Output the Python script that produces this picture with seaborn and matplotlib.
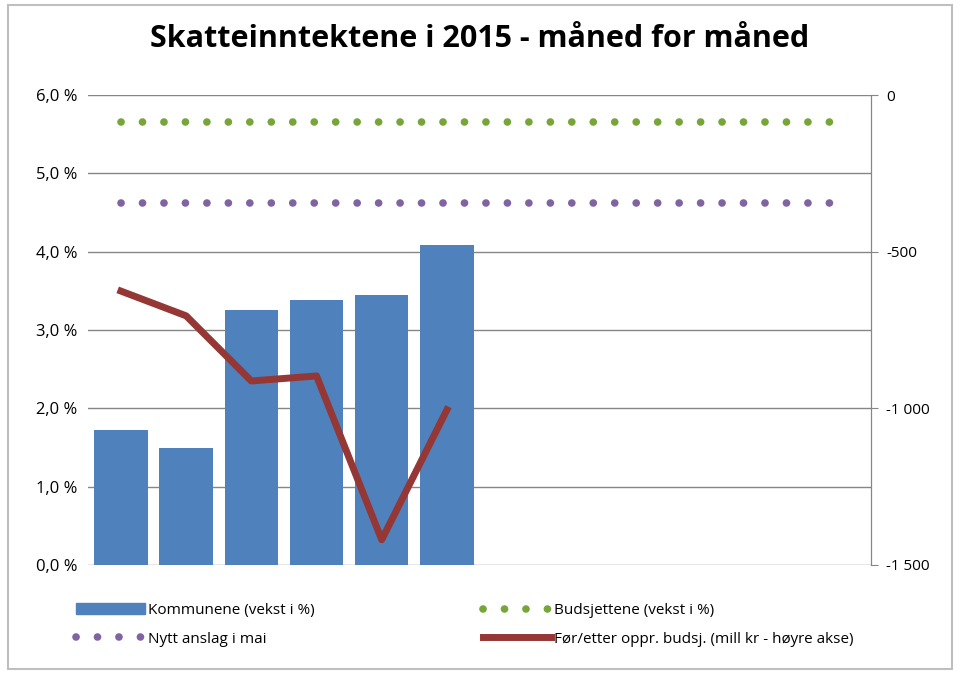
import matplotlib
matplotlib.use("Agg")
import matplotlib.pyplot as plt
from matplotlib.patches import Patch
import seaborn as sns
import pandas as pd
import numpy as np

months = ["jan", "feb", "mar", "apr", "mai", "jun", "jul", "aug", "sep", "okt", "nov", "des"]
kommunene = [1.72, 1.49, 3.26, 3.38, 3.44, 4.09]
budsjettene = [5.65] * 12
nytt_anslag = [4.62] * 12
for_etter = [-626, -705, -913, -897, -1420, -1005]

plt.rcParams["font.family"] = "Open Sans"
fig = plt.figure(figsize=(9.6, 6.74), dpi=100)
fig.patches.append(plt.Rectangle((0.008, 0.008), 0.984, 0.984, transform=fig.transFigure,
                                 fill=False, edgecolor="#bfbfbf", lw=1.5))
ax = fig.add_axes([0.092, 0.162, 0.815, 0.697])

df = pd.DataFrame({"m": months[:6], "v": kommunene})
sns.barplot(data=df, x="m", y="v", ax=ax, color="#4f81bd", saturation=1, width=0.82,
            order=months)
x = np.arange(12)
dots = (0, (0.01, 2.8))
hb, = ax.plot(x, budsjettene, linestyle=dots, lw=5.5, dash_capstyle="round", color="#77a53a")
hn, = ax.plot(x, nytt_anslag, linestyle=dots, lw=5.5, dash_capstyle="round", color="#8064a2")
ax.set_xlim(-0.5, 11.5)
ax.set_ylim(0, 6)
ax.set_yticks(np.arange(0, 6.01, 1))
ax.set_yticklabels([f"{v:.1f} %".replace(".", ",") for v in np.arange(0, 6.01, 1)])
ax.set_xticks([])
ax.set_xlabel(""); ax.set_ylabel("")
ax.grid(axis="y", color="#868686", lw=1)
ax.set_axisbelow(True)
for s in ["top", "left", "bottom"]:
    ax.spines[s].set_visible(False)
ax.spines["right"].set_color("#868686")
ax.tick_params(axis="y", length=0, labelsize=12, pad=8)

ax2 = ax.twinx()
hf, = ax2.plot(x[:6], for_etter, color="#953735", lw=5)
ax2.set_ylim(-1500, 0)
ax2.set_yticks([0, -500, -1000, -1500])
ax2.set_yticklabels(["0", "-500", "-1 000", "-1 500"])
ax2.tick_params(axis="y", length=5, color="#868686", labelsize=11, pad=6)
for s in ["top", "left", "bottom"]:
    ax2.spines[s].set_visible(False)
ax2.spines["right"].set_color("#868686")

hk = Patch(color="#4f81bd")
fig.legend([hk, hn, hb, hf],
           ["Kommunene (vekst i %)", "Nytt anslag i mai", "Budsjettene (vekst i %)",
            "Før/etter oppr. budsj. (mill kr - høyre akse)"], ncol=2,
           loc="lower left", bbox_to_anchor=(0.065, 0.02), frameon=False, fontsize=11,
           columnspacing=11, handlelength=4.5, handletextpad=0.2, labelspacing=0.9)

fig.suptitle("Skatteinntektene i 2015 - måned for måned", fontsize=22, fontweight="bold", y=0.965)
fig.savefig("out.png", dpi=100)
